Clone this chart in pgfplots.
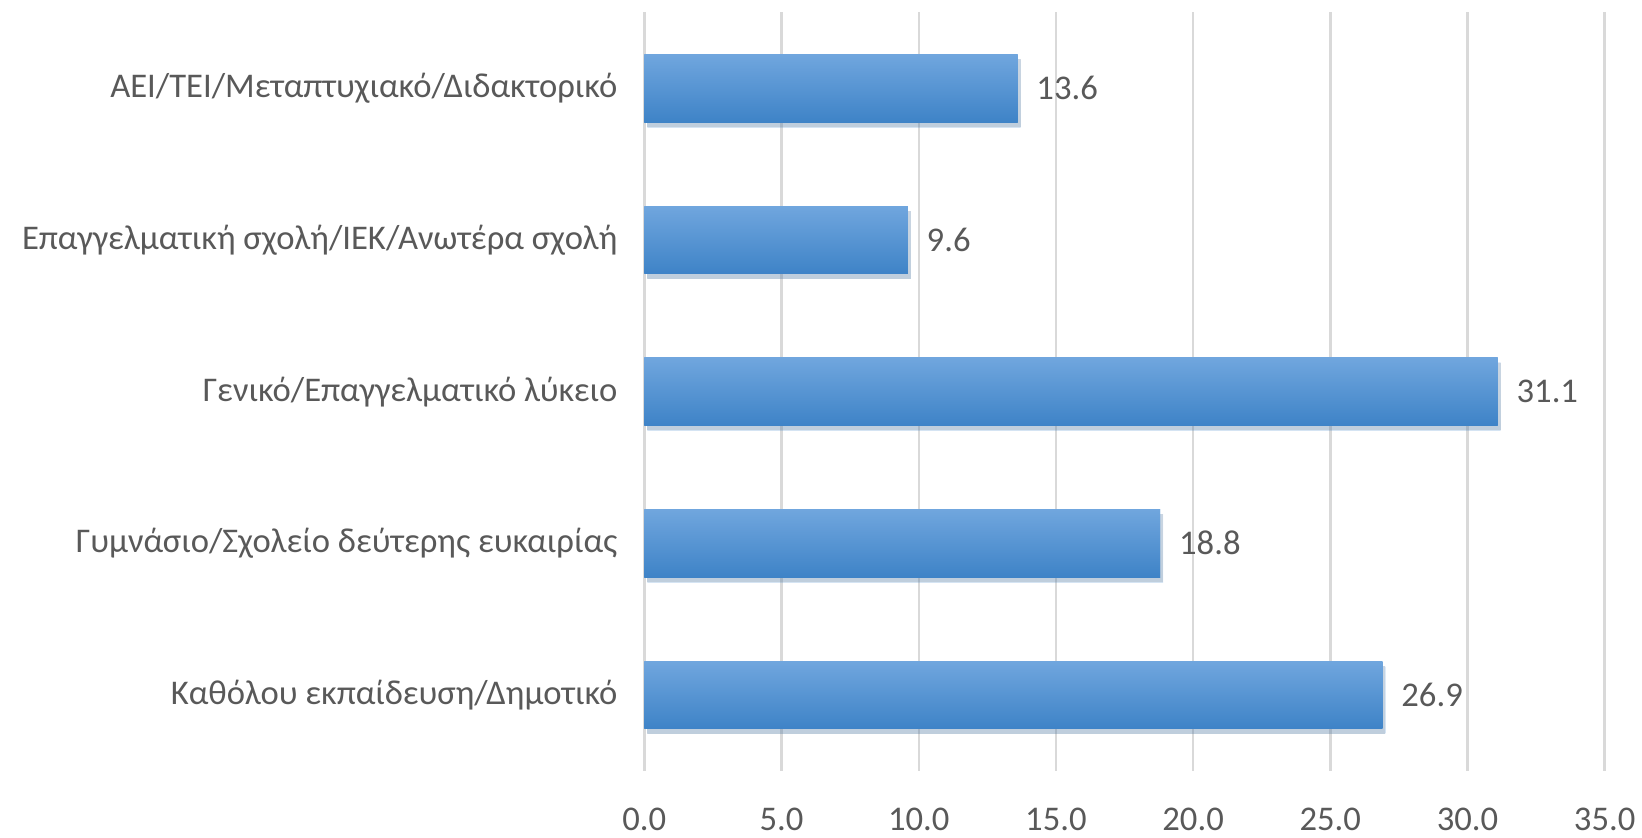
\documentclass[border=0pt]{standalone}
\usepackage{fontspec}
\setmainfont{Carlito}
\usepackage{pgfplots}
\pgfplotsset{compat=1.18}
\usetikzlibrary{shadows}
\definecolor{txt}{RGB}{89,89,89}
\definecolor{gridc}{RGB}{217,217,217}
\definecolor{bartop}{RGB}{112,166,222}
\definecolor{barbot}{RGB}{62,131,199}
\pgfplotsset{
  onebar/.style={xbar, bar width=34pt, bar shift=0pt, draw=none,
    top color=bartop, bottom color=barbot,
    preaction={drop shadow={shadow xshift=1.5pt, shadow yshift=-2.5pt, opacity=0.22}},
    nodes near coords,
    nodes near coords style={/pgf/number format/fixed, /pgf/number format/fixed zerofill,
      /pgf/number format/precision=1, /pgf/number format/assume math mode=true,
      font=\fontsize{17.4}{21}\selectfont, text=txt, anchor=west, xshift=6pt}},
}
\begin{document}
\begin{tikzpicture}
\begin{axis}[
  scale only axis,
  width=482.5pt, height=381pt,
  xmin=0, xmax=35,
  ymin=-0.5, ymax=4.5,
  xtick={0,5,...,35},
  ytick={0,1,2,3,4},
  yticklabels={Καθόλου εκπαίδευση/Δημοτικό,Γυμνάσιο/Σχολείο δεύτερης ευκαιρίας,Γενικό/Επαγγελματικό λύκειο,Επαγγελματική σχολή/ΙΕΚ/Ανωτέρα σχολή,ΑΕΙ/ΤΕΙ/Μεταπτυχιακό/Διδακτορικό},
  xmajorgrids=true,
  grid style={gridc, line width=1.2pt},
  axis line style={draw=none},
  major tick length=0pt,
  tick label style={font=\fontsize{17.4}{21}\selectfont, text=txt},
  xticklabel style={/pgf/number format/fixed, /pgf/number format/fixed zerofill, /pgf/number format/precision=1, yshift=-15pt},
  yticklabel style={xshift=-10pt},
  /pgf/number format/assume math mode=true,
  clip=false,
]
\addplot[onebar] coordinates {(26.9,0)};
\addplot[onebar] coordinates {(18.8,1)};
\addplot[onebar] coordinates {(31.1,2)};
\addplot[onebar] coordinates {(9.6,3)};
\addplot[onebar] coordinates {(13.6,4)};
\path (rel axis cs:-0.671,-0.085) rectangle (rel axis cs:1.030,1.0165);
\end{axis}
\end{tikzpicture}
\end{document}
